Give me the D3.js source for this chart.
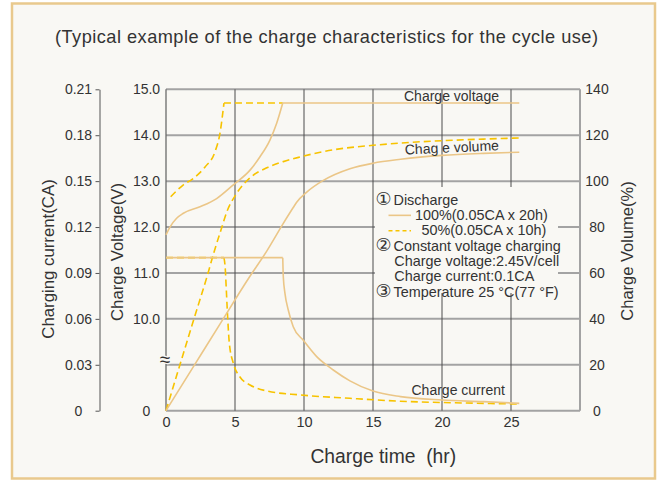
<!DOCTYPE html>
<html>
<head>
<meta charset="utf-8">
<script src="https://cdn.jsdelivr.net/npm/d3@7/dist/d3.min.js"></script>
<style>
  body { margin: 0; background: #fff; }
  svg { display: block; font-family: "Liberation Sans", Arial, sans-serif; }
  text { fill: #333; }
</style>
</head>
<body>
<svg width="661" height="481"></svg>
<script>
// Tick values for the four axes
const timeTicks = [0, 5, 10, 15, 20, 25];
const currentTicks = [0, 0.03, 0.06, 0.09, 0.12, 0.15, 0.18, 0.21];
const voltageTicks = [8, 10, 11, 12, 13, 14, 15];   // 8 is shown as "0" (broken axis)
const volumeTicks = [0, 20, 40, 60, 80, 100, 120, 140];

// Constant voltage / current settings (V, CA) and hold periods (hr)
const chargeVoltage = 14.7;
const chargeCurrent = 0.1;
const cvStart100 = 8.46, cvStart50 = 4.2, chargeEnd = 25.6;

// 100% discharged (0.05CA x 20h): [hr, value]
const volt100 = [[0, 11.83], [0.29, 12.0], [0.77, 12.19], [1.26, 12.3], [2.46, 12.44], [3.67, 12.62],
  [4.88, 12.92], [6.09, 13.24], [6.81, 13.53], [7.54, 13.9], [8.02, 14.26], [8.46, 14.7]];
const cur100 = [[8.46, 0.1], [8.5, 0.0875], [8.62, 0.0767], [8.86, 0.0658], [9.22, 0.0549], [9.95, 0.046],
  [10.92, 0.0353], [12.12, 0.0266], [13.33, 0.0195], [15, 0.0128], [17, 0.0092], [20, 0.007],
  [23, 0.0059], [25.6, 0.0048]];
const vol100 = [[0, 0], [2, 19.3], [4, 38.6], [6, 57.8], [7.3, 69.5], [8.5, 81.6], [9.22, 88.5],
  [9.47, 90.8], [10.2, 95.2], [11.4, 100.3], [13.33, 105.4], [15, 107.8], [17, 109.5], [20, 111.2],
  [23, 112.1], [25.6, 112.6]];

// 50% discharged (0.05CA x 10h)
const volt50 = [[0.34, 12.66], [1.26, 12.92], [1.98, 13.06], [2.83, 13.31], [3.55, 13.64], [3.91, 14.04], [4.2, 14.7]];
const cur50 = [[4.2, 0.1], [4.3, 0.092], [4.35, 0.083], [4.44, 0.066], [4.59, 0.044], [4.88, 0.031],
  [5.36, 0.022], [6.09, 0.0168], [7.3, 0.0129], [9.71, 0.0103], [13.33, 0.0081], [16.96, 0.0062],
  [21.8, 0.005], [25.6, 0.0044]];
const vol50 = [[0, 0], [2, 39.5], [3, 59], [3.5, 69.5], [4, 79], [4.4, 86.5], [5.1, 94.5], [6.1, 101.5],
  [7.3, 105.8], [8.5, 108.5], [9.7, 110.5], [12.1, 113.6], [15, 115.6], [17, 116.6], [20, 117.6],
  [23, 118.3], [25.6, 118.8]];

const legendLines = [
  { sym: "\u2460", text: "Discharge" },
  { sample: "solid", text: "100%(0.05CA x 20h)" },
  { sample: "dash", text: "50%(0.05CA x 10h)" },
  { sym: "\u2461", text: "Constant voltage charging" },
  { text: "Charge voltage:2.45V/cell" },
  { text: "Charge current:0.1CA" },
  { sym: "\u2462", text: "Temperature 25 \u00B0C(77 \u00B0F)" }
];

const solidColor = "#ebc687", dashColor = "#f7c300", bg = "#f9f8f4";

const svg = d3.select("svg");
const margin = { top: 89.3, left: 166, right: 81, bottom: 70.3 },
  width = 661 - margin.left - margin.right,
  height = 481 - margin.top - margin.bottom;
const plotTop = margin.top, plotBottom = margin.top + height,
  plotLeft = margin.left, plotRight = margin.left + width;

// frame
svg.append("rect")
  .attr("x", 12).attr("y", 3.5).attr("width", 643).attr("height", 475)
  .attr("fill", bg).attr("stroke", "#e9c98d").attr("stroke-width", 2.5);

// scales
const x = d3.scaleLinear().domain([0, 30]).range([plotLeft, plotRight]);
const yCur = d3.scaleLinear().domain([0, 0.21]).range([plotBottom, plotTop]);
const yVolt = d3.scaleLinear().domain([8, 15]).range([plotBottom, plotTop]);
const yVol = d3.scaleLinear().domain([0, 140]).range([plotBottom, plotTop]);

// grid
svg.append("g").selectAll("line").data(volumeTicks).join("line")
  .attr("x1", plotLeft).attr("x2", plotRight)
  .attr("y1", d => yVol(d)).attr("y2", d => yVol(d))
  .attr("stroke", "#a3a3a3").attr("stroke-width", 2);

svg.append("g").selectAll("line").data(timeTicks.slice(1)).join("line")
  .attr("x1", d => x(d)).attr("x2", d => x(d))
  .attr("y1", plotTop).attr("y2", plotBottom)
  .attr("stroke", "#4d4d4d").attr("stroke-width", 1);

svg.append("line").attr("x1", plotLeft).attr("x2", plotLeft).attr("y1", plotTop).attr("y2", plotBottom)
  .attr("stroke", "#6b6b6b").attr("stroke-width", 1.3);
svg.append("line").attr("x1", plotRight).attr("x2", plotRight).attr("y1", plotTop).attr("y2", plotBottom)
  .attr("stroke", "#a3a3a3").attr("stroke-width", 2);

// legend backing covers the grid
svg.append("rect").attr("x", 375).attr("y", 187).attr("width", 183).attr("height", 106).attr("fill", bg);

// axes
const curAxis = svg.append("g").attr("transform", "translate(99.5,0)")
  .call(d3.axisLeft(yCur).tickValues(currentTicks).tickSize(4).tickSizeOuter(0)
    .tickFormat(d => d === 0 ? "0" : d3.format(".2f")(d)));
curAxis.select(".domain").attr("stroke", "#555");
curAxis.selectAll(".tick line").attr("stroke", "#555");
curAxis.selectAll(".tick text").attr("x", -21).attr("text-anchor", "middle")
  .style("font-size", "14px").attr("fill", "#333");
curAxis.attr("font-family", null).attr("font-size", null);

const voltAxis = svg.append("g").attr("transform", `translate(${plotLeft},0)`)
  .call(d3.axisLeft(yVolt).tickValues(voltageTicks).tickSize(0)
    .tickFormat(d => d === 8 ? "0" : d3.format(".1f")(d)));
voltAxis.select(".domain").remove();
voltAxis.selectAll(".tick text").attr("x", -19.5).attr("text-anchor", "middle")
  .style("font-size", "14px").attr("fill", "#333");
voltAxis.attr("font-family", null).attr("font-size", null);

const volAxis = svg.append("g").attr("transform", `translate(${plotRight},0)`)
  .call(d3.axisRight(yVol).tickValues(volumeTicks).tickSize(0));
volAxis.select(".domain").remove();
volAxis.selectAll(".tick text").attr("x", 17).attr("text-anchor", "middle")
  .style("font-size", "14px").attr("fill", "#333");
volAxis.attr("font-family", null).attr("font-size", null);

const xAxis = svg.append("g").attr("transform", `translate(0,${plotBottom})`)
  .call(d3.axisBottom(x).tickValues(timeTicks).tickSize(0).tickPadding(6));
xAxis.select(".domain").remove();
xAxis.selectAll(".tick text").style("font-size", "14.5px").attr("fill", "#333");
xAxis.attr("font-family", null).attr("font-size", null);

// axis break mark
svg.append("text").attr("x", 165).attr("y", 365.5).attr("text-anchor", "middle")
  .style("font-size", "19px").attr("fill", "#555")
  .attr("stroke", bg).attr("stroke-width", 2.5).attr("paint-order", "stroke")
  .text("\u2248");

// curves
const curve = d3.curveMonotoneX;
const lineVolt = d3.line().x(d => x(d[0])).y(d => yVolt(d[1])).curve(curve);
const lineCur = d3.line().x(d => x(d[0])).y(d => yCur(d[1])).curve(curve);
const lineVol = d3.line().x(d => x(d[0])).y(d => yVol(d[1])).curve(curve);
const flatVolt = d3.line().x(d => x(d[0])).y(d => yVolt(d[1]));
const flatCur = d3.line().x(d => x(d[0])).y(d => yCur(d[1]));

const curves = svg.append("g").attr("fill", "none");

function addPath(d, dashed) {
  curves.append("path").attr("d", d)
    .attr("stroke", dashed ? dashColor : solidColor)
    .attr("stroke-width", 1.6)
    .attr("stroke-dasharray", dashed ? "7,4" : null);
}

// 50% series (dashed) drawn first
addPath(flatCur([[0, chargeCurrent], [cvStart50, chargeCurrent]]), true);
addPath(lineVolt(volt50), true);
addPath(flatVolt([[cvStart50, chargeVoltage], [cvStart100, chargeVoltage]]), true);
addPath(lineCur(cur50), true);
addPath(lineVol(vol50), true);

// 100% series (solid)
addPath(flatCur([[0, chargeCurrent], [cvStart100, chargeCurrent]]), false);
addPath(lineVolt(volt100), false);
addPath(flatVolt([[cvStart100, chargeVoltage], [chargeEnd, chargeVoltage]]), false);
addPath(lineCur(cur100), false);
addPath(lineVol(vol100), false);

// curve labels
svg.append("text").attr("x", 404).attr("y", 100.5).style("font-size", "14px").text("Charge voltage");
svg.append("text").attr("x", 405).attr("y", 154.5).attr("transform", "rotate(-2.6,405,154.5)")
  .style("font-size", "14px").text("Chag e volume");
svg.append("text").attr("x", 411.5).attr("y", 395).style("font-size", "14px").text("Charge current");

// legend
const legend = svg.append("g").style("font-size", "14.4px");
legendLines.forEach((row, i) => {
  const y = 204.5 + i * 15.35;
  if (row.sym) {
    legend.append("text").attr("x", 375.5).attr("y", y + 0.5).style("font-family", "'DejaVu Sans', sans-serif")
      .style("font-size", "18px").text(row.sym);
  }
  if (row.sample) {
    legend.append("line").attr("x1", 388.5).attr("x2", 411).attr("y1", y - 4.5).attr("y2", y - 4.5)
      .attr("stroke", row.sample === "dash" ? dashColor : solidColor).attr("stroke-width", 1.6)
      .attr("stroke-dasharray", row.sample === "dash" ? "4,3" : null);
  }
  const tx = row.sym ? 393.5 : row.sample === "solid" ? 415 : row.sample === "dash" ? 421.5 : 394.3;
  legend.append("text").attr("x", tx).attr("y", y).text(row.text);
});

// titles
svg.append("text").attr("x", 55).attr("y", 43).attr("textLength", 543).attr("lengthAdjust", "spacing")
  .style("font-size", "18.2px").text("(Typical example of the charge characteristics for the cycle use)");

svg.append("text").attr("transform", "translate(48.5,259) rotate(-90)").attr("text-anchor", "middle")
  .attr("dominant-baseline", "central").style("font-size", "16.8px").text("Charging current(CA)");
svg.append("text").attr("transform", "translate(117,252) rotate(-90)").attr("text-anchor", "middle")
  .attr("dominant-baseline", "central").style("font-size", "16.8px").text("Charge Voltage(V)");
svg.append("text").attr("transform", "translate(626.5,251) rotate(-90)").attr("text-anchor", "middle")
  .attr("dominant-baseline", "central").style("font-size", "16.5px").text("Charge Volume(%)");

svg.append("text").attr("x", 383.3).attr("y", 463).attr("text-anchor", "middle")
  .style("font-size", "19.3px").style("white-space", "pre").text("Charge time  (hr)");
</script>
</body>
</html>
